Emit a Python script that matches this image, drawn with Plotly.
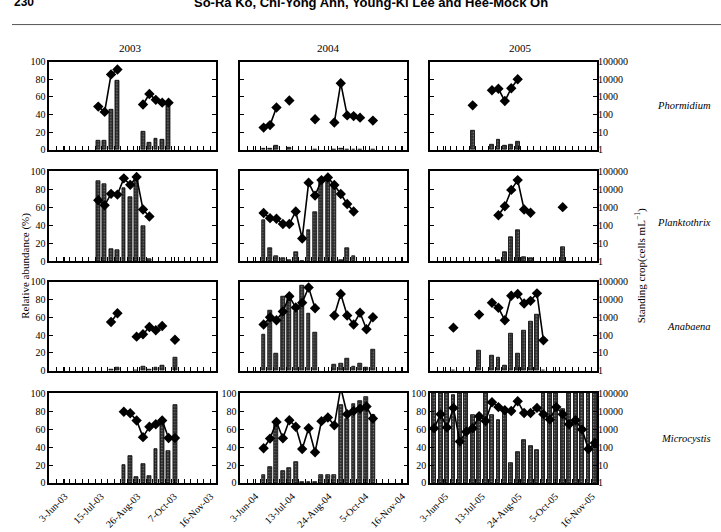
import plotly.graph_objects as go

# ---------------- data (week slot index, relative abundance %, standing crop cells/mL)
YEARS = ["2003", "2004", "2005"]
SPECIES = ["Phormidium", "Planktothrix", "Anabaena", "Microcystis"]
XLABELS = {
    "2003": ["3-Jun-03", "15-Jul-03", "26-Aug-03", "7-Oct-03", "16-Nov-03"],
    "2004": ["3-Jun-04", "13-Jul-04", "24-Aug-04", "5-Oct-04", "16-Nov-04"],
    "2005": ["3-Jun-05", "13-Jul-05", "24-Aug-05", "5-Oct-05", "16-Nov-05"],
}
LOG_TICKS = [1, 10, 100, 1000, 10000, 100000]

# Phormidium
pho03_wk = [7, 8, 9, 10, 14, 15, 16, 17, 18]
pho03_rel = [10, 10, 45, 78, 20, 8, 13, 11, 55]
pho03_crop = [280, 140, 19000, 36000, 370, 1450, 680, 470, 470]
pho04_wk = [3, 4, 5, 7, 11, 14, 15, 16, 17, 18, 20]
pho04_rel = [1, 1, 5, 2, 0.5, 0.5, 1, 0.5, 0.5, 0.5, 0.5]
pho04_crop = [18, 25, 250, 630, 54, 35, 6000, 89, 81, 66, 45]
pho05_wk = [6, 9, 10, 11, 12, 13]
pho05_rel = [22, 6, 11, 4, 6, 9]
pho05_crop = [330, 2400, 2900, 580, 3100, 10000]

# Planktothrix
pla03_wk = [7, 8, 9, 10, 11, 12, 13, 14, 15]
pla03_rel = [89, 86, 13, 12, 81, 71, 93, 39, 2]
pla03_crop = [2400, 1260, 5500, 5000, 40000, 17400, 48000, 740, 300]
pla04_wk = [3, 4, 5, 6, 7, 8, 9, 10, 11, 12, 13, 14, 15, 16, 17]
pla04_rel = [46, 14, 5.5, 3.7, 0.7, 10, 0, 34, 54, 90, 94, 86, 1.5, 14, 6]
pla04_crop = [470, 245, 225, 115, 115, 575, 18, 23000, 4400, 32000, 45000, 17000, 5400, 1500, 575]
pla05_wk = [10, 11, 12, 13, 14, 15, 20]
pla05_rel = [1.5, 10, 27, 34.5, 4.7, 3, 16]
pla05_crop = [355, 1120, 9100, 32000, 740, 490, 1000]

# Anabaena
ana03_wk = [9, 10, 13, 14, 15, 16, 17, 19]
ana03_rel = [1, 3, 0.5, 5, 1, 3, 6, 14]
ana03_crop = [540, 1660, 81, 110, 280, 186, 320, 54]
ana04_wk = [3, 4, 5, 6, 7, 8, 9, 10, 11, 14, 15, 16, 17, 18, 19, 20]
ana04_rel = [40, 67, 18.5, 83, 80, 66, 96, 64.5, 43, 6.5, 8.3, 13.8, 4.7, 7.6, 3.6, 23]
ana04_crop = [390, 1000, 680, 2100, 15000, 3500, 6600, 47000, 3200, 1260, 20000, 1260, 390, 1800, 210, 1000]
ana05_wk = [3, 7, 9, 10, 11, 12, 13, 14, 15, 16, 17]
ana05_rel = [0.5, 22.6, 17, 14.3, 5.7, 41.5, 18.9, 45, 54.7, 63.4, 0.5]
ana05_crop = [260, 1400, 6500, 3400, 680, 16000, 20000, 5900, 8300, 22000, 50]

# Microcystis
mic03_wk = [11, 12, 13, 14, 15, 16, 17, 18, 19]
mic03_rel = [19.6, 29.6, 7, 21.4, 8.2, 38, 71, 35.7, 86.4]
mic03_crop = [9100, 7600, 3000, 355, 1350, 1860, 3000, 316, 316]
mic04_wk = [3, 4, 5, 6, 7, 8, 9, 10, 11, 12, 13, 14, 15, 16, 17, 18, 19, 20]
mic04_rel = [9, 17.8, 68, 13, 17, 23.3, 1, 1, 0.5, 9, 9, 9, 87, 71, 88, 91, 96, 76]
mic04_crop = [85, 295, 2500, 310, 3100, 1350, 78, 1100, 51, 2750, 4400, 1600, 200000, 6600, 10000, 13500, 17800, 3800]
mic05_wk = list(range(26))
mic05_rel = [100, 100, 100, 98, 100, 100, 76, 75, 100, 76, 70, 80, 22, 34, 48, 41, 37,
             100, 100, 100, 82, 100, 100, 100, 100, 100]
mic05_crop = [1100, 6600, 1230, 15000, 200, 710, 1100, 5100, 2800, 31000, 16600, 11000, 10000,
              35000, 7800, 7800, 15000, 6600, 3400, 16600, 6600, 1860, 3100, 950, 78, 166]

PANELS = [
    [(pho03_wk, pho03_rel, pho03_crop), (pho04_wk, pho04_rel, pho04_crop), (pho05_wk, pho05_rel, pho05_crop)],
    [(pla03_wk, pla03_rel, pla03_crop), (pla04_wk, pla04_rel, pla04_crop), (pla05_wk, pla05_rel, pla05_crop)],
    [(ana03_wk, ana03_rel, ana03_crop), (ana04_wk, ana04_rel, ana04_crop), (ana05_wk, ana05_rel, ana05_crop)],
    [(mic03_wk, mic03_rel, mic03_crop), (mic04_wk, mic04_rel, mic04_crop), (mic05_wk, mic05_rel, mic05_crop)],
]

# ---------------- layout geometry (pixels)
W, H = 721, 532
COLS = [(38, 207), (232, 402), (425, 595)]
ROWS = [(57, 147), (169, 261), (282, 373), (396, 488)]
XRANGE = [-0.65, 25.35]
XTICKPOS = [1.75, 7.45, 13.15, 18.85, 24.55]

FONT = "Liberation Serif"

fig = go.Figure()
layout = dict(
    width=W, height=H, margin=dict(l=0, r=0, t=0, b=0),
    paper_bgcolor="white", plot_bgcolor="white", showlegend=False,
    font=dict(family=FONT, size=10, color="black"),
    bargap=0,
)

def xd(px0, px1):
    return [px0 / W, px1 / W]

def yd(py0, py1):
    return [1 - py1 / H, 1 - py0 / H]

for r in range(4):
    for c in range(3):
        n = r * 3 + c + 1
        wk, rel, crop = PANELS[r][c]
        xa = "x" if n == 1 else f"x{n}"
        ya = f"y{2*n-1}" if 2 * n - 1 > 1 else "y"
        yb = f"y{2*n}"
        fig.add_trace(go.Bar(
            x=wk, y=rel, xaxis=xa, yaxis=ya, width=0.6,
            marker=dict(color="#2e2e2e", line=dict(color="black", width=0.8),
                        pattern=dict(shape=".", fgcolor="#c8c8c8", size=3, solidity=0.25)),
        ))
        lut = dict(zip(wk, crop))
        xs = list(range(min(wk), max(wk) + 1))
        ys = [lut.get(k) for k in xs]
        fig.add_trace(go.Scatter(
            x=xs, y=ys, xaxis=xa, yaxis=yb, mode="lines+markers", connectgaps=False,
            line=dict(color="black", width=1.6),
            marker=dict(symbol="diamond", size=8, color="black"),
        ))
        xkey = "xaxis" if n == 1 else f"xaxis{n}"
        ykey1 = "yaxis" if 2 * n - 1 == 1 else f"yaxis{2*n-1}"
        ykey2 = f"yaxis{2*n}"
        year = YEARS[c]
        layout[xkey] = dict(
            domain=xd(*COLS[c]), anchor=ya, range=XRANGE,
            showline=True, mirror=True, linecolor="black", linewidth=1.5,
            showgrid=False, zeroline=False,
            tickmode="array", tickvals=XTICKPOS, ticktext=XLABELS[year],
            ticks="inside", ticklen=4, tickwidth=1, tickcolor="black",
            showticklabels=(r == 3), tickangle=-45, ticklabelstandoff=2,
            tickfont=dict(family=FONT, size=10),
            minor=dict(ticks="inside", ticklen=4, tickwidth=1, tickcolor="black",
                       tickmode="linear", tick0=0.5, dtick=1),
        )
        layout[ykey1] = dict(
            domain=yd(*ROWS[r]), anchor=xa, range=[0, 100],
            tickmode="array", tickvals=[0, 20, 40, 60, 80, 100],
            ticks="inside", ticklen=4, tickcolor="black",
            showline=True, mirror="ticks", linecolor="black", linewidth=1.5,
            showgrid=False, zeroline=False,
            showticklabels=(c == 0 or r == 3),
            tickfont=dict(family=FONT, size=10),
        )
        layout[ykey2] = dict(
            overlaying=ya, anchor=xa, side="right", type="log", range=[0, 5],
            tickmode="array", tickvals=LOG_TICKS, ticktext=[str(v) for v in LOG_TICKS],
            ticks="", showline=False, showgrid=False, zeroline=False,
            showticklabels=(c == 2),
            tickfont=dict(family=FONT, size=10),
        )

def note(text, px, py, size, angle=0, family=FONT):
    return dict(text=text, x=px / W, y=1 - py / H, xref="paper", yref="paper",
                xanchor="center", yanchor="middle", showarrow=False, textangle=angle,
                font=dict(family=family, size=size))

ann = []
for year, px in zip(YEARS, [120, 322, 517]):
    ann.append(note(year, px, 43, 11))
for sp, (px, py) in zip(SPECIES, [(683, 102), (683, 221), (688, 328), (685, 442)]):
    ann.append(note(f"<i>{sp}</i>", px, py, 10.5))
ann.append(note("Relative abundance (%)", 13, 266, 11, -90))
ann.append(note("Standing crop(cells mL<sup>\u22121</sup>)", 639, 266, 11, -90))
# page header (cut off at the top edge, as in the source page)
ann.append(note("<b>So-Ra Ko, Chi-Yong Ahn, Young-Ki Lee and Hee-Mock Oh</b>", 365, -4, 13,
                family="Liberation Sans"))
ann.append(note("<b>230</b>", 12, -4, 12, family="Liberation Sans"))
layout["annotations"] = ann
layout["shapes"] = [dict(type="line", xref="paper", yref="paper", x0=0, x1=1,
                         y0=1 - 19 / H, y1=1 - 19 / H, line=dict(color="#555", width=1))]

fig.update_layout(**layout)
fig.write_html("out.html")
